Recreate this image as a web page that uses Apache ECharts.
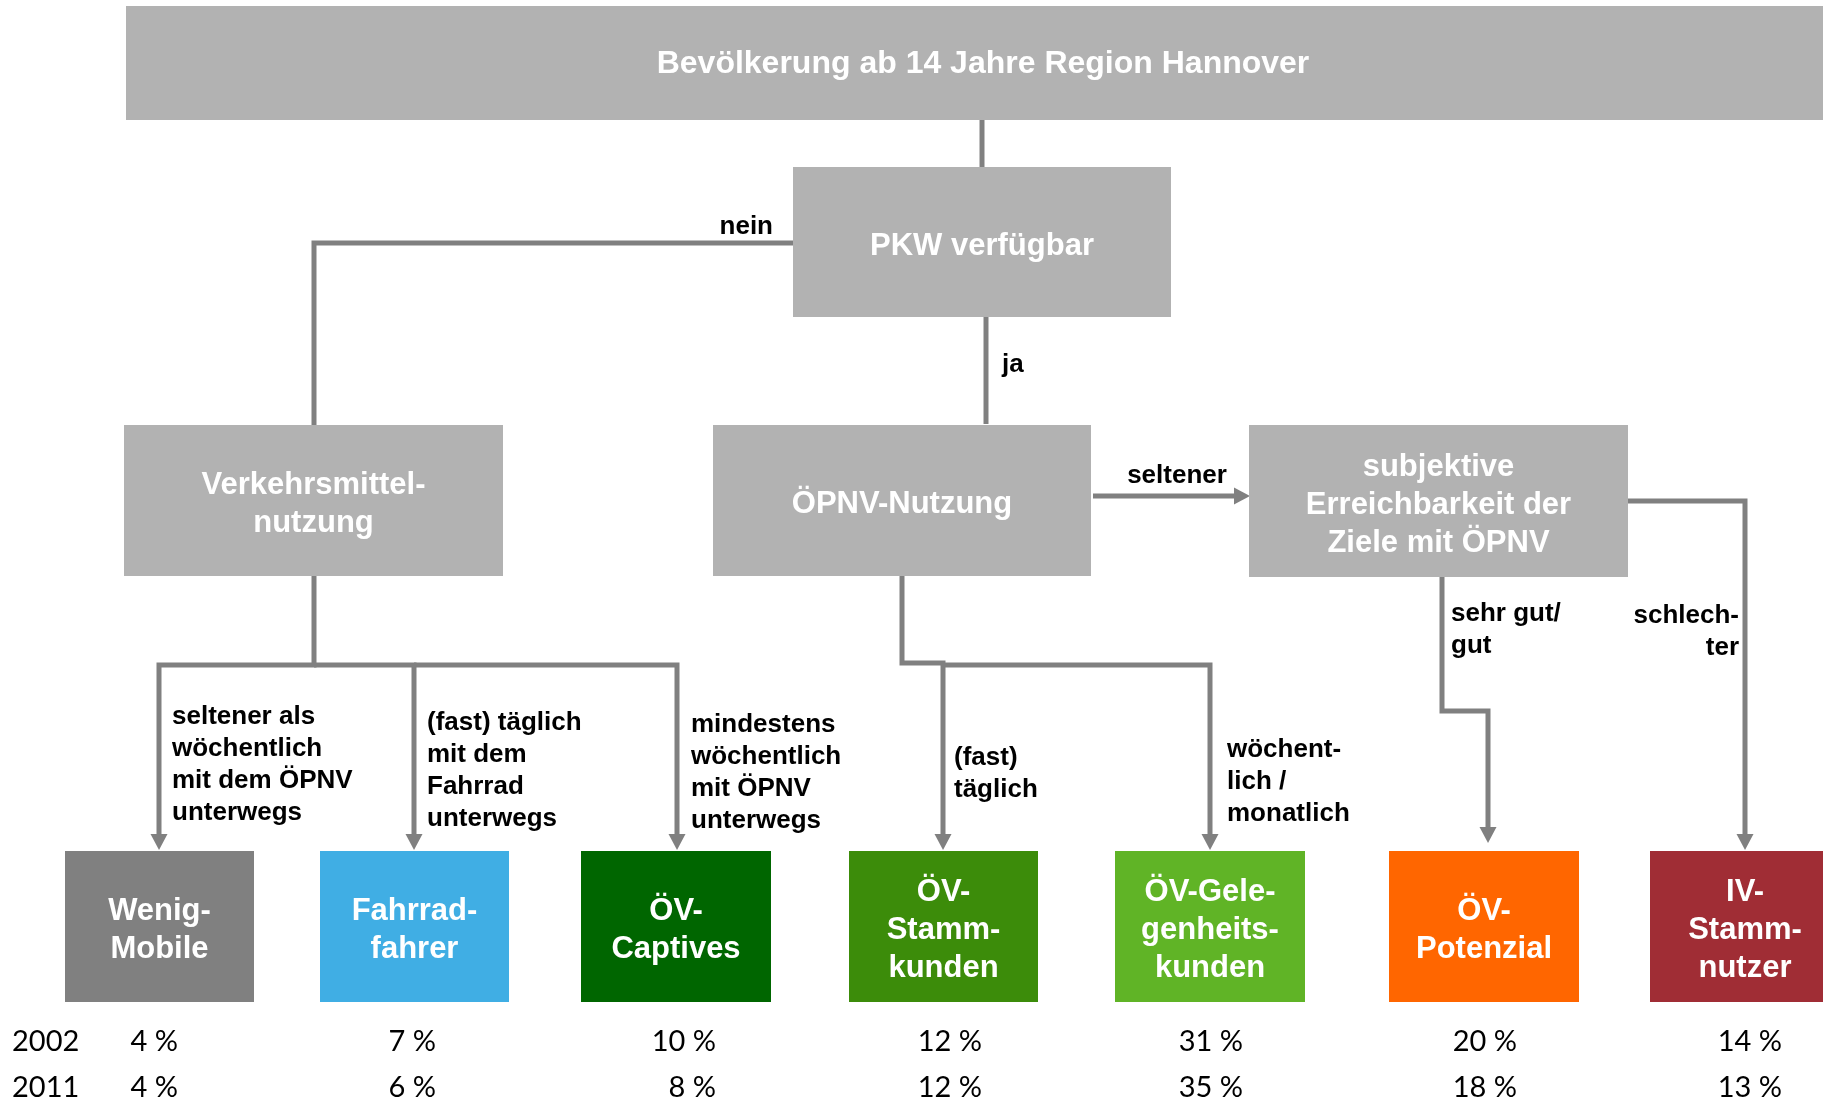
<!DOCTYPE html>
<html>
<head>
<meta charset="utf-8">
<title>Mobilitätstypen Region Hannover</title>
<script src="https://cdn.jsdelivr.net/npm/echarts@6/dist/echarts.min.js"></script>
<style>
    html, body { margin: 0; padding: 0; background: #fff; }
    #main { width: 1823px; height: 1101px; }
</style>
</head>
<body>
<div id="main"></div>
<script>
// Mobilitätstypen und Anteile
var categories = ['Wenig-\nMobile', 'Fahrrad-\nfahrer', 'ÖV-\nCaptives', 'ÖV-\nStamm-\nkunden', 'ÖV-Gele-\ngenheits-\nkunden', 'ÖV-\nPotenzial', 'IV-\nStamm-\nnutzer'];
var years = ['2002', '2011'];
var share2002 = [4, 7, 10, 12, 31, 20, 14];
var share2011 = [4, 6, 8, 12, 35, 18, 13];

// Entscheidungsstufen und Verzweigungen
var steps = ['Bevölkerung ab 14 Jahre Region Hannover', 'PKW verfügbar', 'Verkehrsmittel-\nnutzung', 'ÖPNV-Nutzung', 'subjektive\nErreichbarkeit der\nZiele mit ÖPNV'];
var branchLabels = ['nein', 'ja', 'seltener', 'seltener als\nwöchentlich\nmit dem ÖPNV\nunterwegs', '(fast) täglich\nmit dem\nFahrrad\nunterwegs', 'mindestens\nwöchentlich\nmit ÖPNV\nunterwegs', '(fast)\ntäglich', 'wöchent-\nlich /\nmonatlich', 'sehr gut/\ngut', 'schlech-\nter'];

// Layout im Pixelraster 1823 x 1101
var catColors = ['#808080', '#40aee4', '#006600', '#3c8c0a', '#60b426', '#ff6600', '#a02d35'];
var catBox = [[65, 254], [320, 509], [581, 771], [849, 1038], [1115, 1305], [1389, 1579], [1650, 1840]];
var catTop = 851, catBottom = 1002;
var stepBox = [[126, 6, 1840, 120], [793, 167, 1171, 317], [124, 425, 503, 576], [713, 425, 1091, 576], [1249, 425, 1628, 577]];
var stepFont = [32, 31, 31, 31, 31];
var stepShift = [1, 4, 4, 4, 4];
var labelPos = [[773, 227, 'right'], [1002, 365, 'left'], [1177, 476, 'center'], [172, 717, 'left'], [427, 723, 'left'], [691, 725, 'left'], [954, 758, 'left'], [1227, 750, 'left'], [1451, 614, 'left'], [1739, 616, 'right']];
var pctRight = [178, 436, 716, 982, 1243, 1517, 1782];
var yearY = [1042, 1088];
var edges = [
    { pts: [[982, 120], [982, 167]], arrow: false },
    { pts: [[793, 243], [314, 243], [314, 425]], arrow: false },
    { pts: [[986, 317], [986, 424]], arrow: false },
    { pts: [[1093, 496], [1250, 496]], arrow: true },
    { pts: [[314, 576], [314, 665], [159, 665], [159, 850]], arrow: true },
    { pts: [[314, 665], [414, 665], [414, 850]], arrow: true },
    { pts: [[414, 665], [677, 665], [677, 850]], arrow: true },
    { pts: [[902, 576], [902, 663], [943, 663], [943, 850]], arrow: true },
    { pts: [[943, 665], [1210, 665], [1210, 850]], arrow: true },
    { pts: [[1442, 577], [1442, 711], [1488, 711], [1488, 843]], arrow: true },
    { pts: [[1628, 501], [1745, 501], [1745, 850]], arrow: true }
];

var lineColor = '#808080';
var boxGray = '#b2b2b2';
var boldFont = '"Liberation Sans", Arial, Helvetica, sans-serif';

var myChart = echarts.init(document.getElementById('main'));

function box(p0, p1, fill, text, size, lh, shift) {
    return {
        type: 'group',
        children: [
            { type: 'rect', shape: { x: p0[0], y: p0[1], width: p1[0] - p0[0], height: p1[1] - p0[1] }, style: { fill: fill } },
            {
                type: 'text', x: (p0[0] + p1[0]) / 2, y: (p0[1] + p1[1]) / 2 + shift,
                style: { text: text, fill: '#fff', fontSize: size, fontWeight: 'bold', fontFamily: boldFont, lineHeight: lh, align: 'center', verticalAlign: 'middle' }
            }
        ]
    };
}

option = {
    animation: false,
    grid: { left: 0, right: 0, top: 0, bottom: 0 },
    xAxis: { type: 'value', min: 0, max: 1823, show: false },
    yAxis: { type: 'value', min: 0, max: 1101, inverse: true, show: false },
    series: [
        {
            // Verbindungslinien mit Pfeilen
            type: 'custom', silent: true, clip: false,
            data: edges.map(function (e, i) { return [i]; }),
            renderItem: function (params, api) {
                var e = edges[params.dataIndex];
                var pts = e.pts.map(function (p) { return api.coord(p); });
                var children = [];
                if (e.arrow) {
                    var n = pts.length;
                    var tip = pts[n - 1], prev = pts[n - 2];
                    var dx = tip[0] - prev[0], dy = tip[1] - prev[1];
                    var len = Math.sqrt(dx * dx + dy * dy);
                    var ux = dx / len, uy = dy / len;
                    var base = [tip[0] - ux * 16, tip[1] - uy * 16];
                    pts = pts.slice(0, n - 1).concat([[tip[0] - ux * 12, tip[1] - uy * 12]]);
                    children.push({
                        type: 'polygon',
                        shape: { points: [tip, [base[0] - uy * 8.5, base[1] + ux * 8.5], [base[0] + uy * 8.5, base[1] - ux * 8.5]] },
                        style: { fill: lineColor }
                    });
                }
                children.unshift({
                    type: 'polyline',
                    shape: { points: pts },
                    style: { stroke: lineColor, lineWidth: 5, fill: null, lineJoin: 'miter', lineCap: 'butt' }
                });
                return { type: 'group', children: children };
            }
        },
        {
            // Entscheidungsstufen
            type: 'custom', silent: true, clip: false,
            data: steps.map(function (s, i) { return [i]; }),
            renderItem: function (params, api) {
                var i = params.dataIndex;
                var b = stepBox[i];
                return box(api.coord([b[0], b[1]]), api.coord([b[2], b[3]]), boxGray, steps[i], stepFont[i], 38, stepShift[i]);
            }
        },
        {
            // Mobilitätstypen
            type: 'custom', silent: true, clip: false,
            data: categories.map(function (c, i) { return [i]; }),
            renderItem: function (params, api) {
                var i = params.dataIndex;
                var b = catBox[i];
                return box(api.coord([b[0], catTop]), api.coord([b[1], catBottom]), catColors[i], categories[i], 31, 38, 4);
            }
        },
        {
            // Beschriftung der Verzweigungen
            type: 'custom', silent: true, clip: false,
            data: branchLabels.map(function (c, i) { return [i]; }),
            renderItem: function (params, api) {
                var l = labelPos[params.dataIndex];
                var p = api.coord([l[0], l[1] - 16]);
                return {
                    type: 'text', x: p[0], y: p[1],
                    style: { text: branchLabels[params.dataIndex], fill: '#000', fontSize: 26, fontWeight: 'bold', fontFamily: boldFont, lineHeight: 32, align: l[2], verticalAlign: 'top' }
                };
            }
        },
        {
            // Anteile 2002 / 2011
            type: 'custom', silent: true, clip: false,
            data: (function () {
                var d = [];
                [share2002, share2011].forEach(function (arr, j) {
                    arr.forEach(function (v, i) { d.push([i, j, v]); });
                });
                return d;
            })(),
            renderItem: function (params, api) {
                var i = api.value(0), j = api.value(1), v = api.value(2);
                var p = api.coord([pctRight[i], yearY[j]]);
                var q = api.coord([12, yearY[j]]);
                var children = [{
                    type: 'text', x: p[0], y: p[1],
                    style: { text: v + ' %', fill: '#000', fontSize: 29, fontFamily: 'Lato, "Open Sans", sans-serif', align: 'right', verticalAlign: 'middle' }
                }];
                if (i === 0) {
                    children.push({
                        type: 'text', x: q[0], y: q[1],
                        style: { text: years[j], fill: '#000', fontSize: 29, fontFamily: 'Lato, "Open Sans", sans-serif', align: 'left', verticalAlign: 'middle' }
                    });
                }
                return { type: 'group', children: children };
            }
        }
    ]
};
myChart.setOption(option);
</script>
</body>
</html>
